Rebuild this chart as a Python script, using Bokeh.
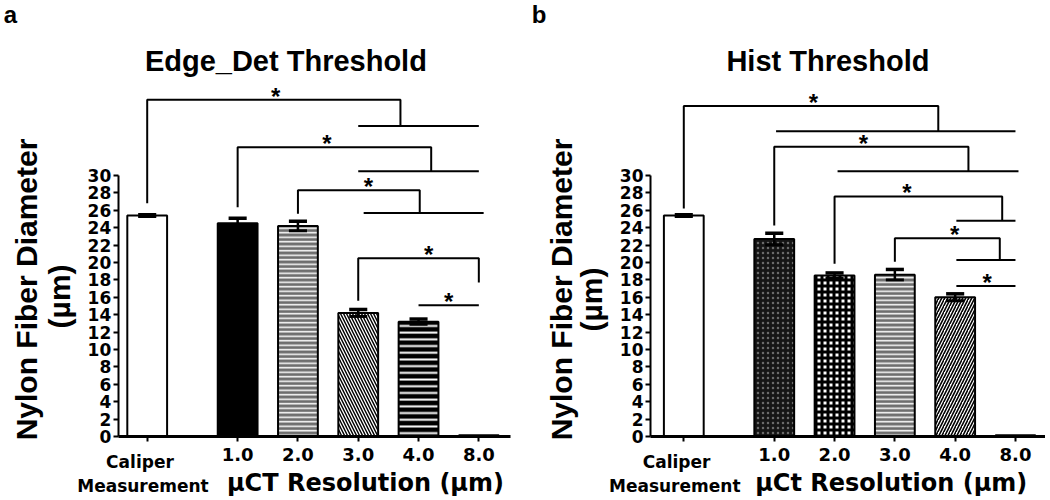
import math
from bokeh.plotting import figure
from bokeh.models import Range1d, FixedTicker, Label, ColumnDataSource, AllLabels
from bokeh.core.properties import field
from bokeh.layouts import row
from bokeh.embed import file_html
from bokeh.resources import INLINE

# ---------------- data ----------------
groups = ["Caliper Measurement", "1.0", "2.0", "3.0", "4.0", "8.0"]
tick_labels = ["", "1.0", "2.0", "3.0", "4.0", "8.0"]
x_pos = [0, 1.5, 2.5, 3.5, 4.5, 5.5]          # category slots (gap after caliper)
y_ticks = list(range(0, 31, 2))

# panel a: Edge_Det Threshold (mean, SEM in um)
ed_mean = [25.4, 24.5, 24.2, 14.2, 13.2, 0.15]
ed_sem = [0.1, 0.6, 0.55, 0.4, 0.3, 0.0]

# panel b: Hist Threshold
hist_mean = [25.4, 22.7, 18.5, 18.6, 16.0, 0.15]
hist_sem = [0.1, 0.65, 0.3, 0.6, 0.4, 0.0]

# significance brackets (data units): left leg x, right leg x, top y, left end y, right end y
ed_br_xl = [0, 1.5, 2.5, 3.5]
ed_br_xr = [4.2, 4.71, 4.52, 5.5]
ed_br_top = [38.7, 33.25, 28.3, 20.5]
ed_br_yl = [26.8, 26.36, 25.6, 15.6]
ed_br_yr = [35.7, 30.5, 25.7, 17.7]
ed_br_sub = [(3.5, 5.5), (3.5, 5.5), (3.59, 5.58), None]
ed_single = (4.5, 5.5, 15.1)
ed_star_x = [2.13, 2.98, 3.67, 4.67, 5.0]

hist_br_xl = [0, 1.5, 2.5, 3.5]
hist_br_xr = [4.22, 4.72, 5.28, 5.24]
hist_br_top = [38.0, 33.3, 27.6, 22.8]
hist_br_yl = [26.2, 24.25, 19.85, 20.1]
hist_br_yr = [35.1, 30.5, 24.8, 20.3]
hist_br_sub = [(1.53, 5.5), (2.55, 5.55), (4.52, 5.5), (4.52, 5.5)]
hist_single = (4.52, 5.5, 17.3)
hist_star_x = [2.15, 2.98, 3.7, 4.49, 5.03]

# ---------------- styles ----------------
ed_style = dict(
    fill=["white", "black", "#6e6e6e", "black", "black", "black"],
    hatch=["blank", "blank", "horizontal_line", "left_diagonal_line", "horizontal_line", "blank"],
    hcol=["white", "white", "white", "white", "white", "white"],
    hscale=[6, 6, 4.5, 6, 6.7, 6],
    hweight=[1, 1, 1.5, 1.3, 2, 1],
)
hist_style = dict(
    fill=["white", "#151515", "white", "#6e6e6e", "white", "black"],
    hatch=["blank", "dot", "cross", "horizontal_line", "right_diagonal_line", "blank"],
    hcol=["white", "#6a6a6a", "black", "white", "black", "white"],
    hscale=[6, 5, 6, 4.5, 6, 6],
    hweight=[1, 0.8, 3, 1.5, 1.6, 1],
)

BOLD_SANS = "Liberation Sans"
WIDE = "DejaVu Sans"
H = 496


def lab(p, x, y, text, font, size, align="center", angle=0.0):
    p.add_layout(Label(x=x, y=y, text=text, text_align=align, text_baseline="alphabetic",
                       angle=angle, text_font=font, text_font_size=size,
                       text_font_style="bold", text_color="black"))


def make_panel(width, x0, x1, axis_x, x_end, means, sems, style, br_xl, br_xr, br_top, br_yl, br_yr,
               br_sub, single, star_x, title, title_x, letter, letter_x, xlabel, xlabel_x,
               ylab_x, ylab2_x, ylab_y, ylab2_y, cal_x, meas_x):
    p = figure(width=width, height=H, x_range=Range1d(x0, x1), y_range=Range1d(-6.897, 50.115),
               output_backend="svg", toolbar_location=None,
               min_border_left=0, min_border_right=0, min_border_top=0, min_border_bottom=0)
    p.xgrid.visible = False
    p.ygrid.visible = False
    p.outline_line_color = None
    p.background_fill_color = "white"
    p.border_fill_color = "white"

    src = ColumnDataSource(dict(x=x_pos, top=means, fill=style["fill"], hatch=style["hatch"],
                                hcol=style["hcol"], hscale=style["hscale"], hweight=style["hweight"]))
    p.vbar(x="x", top="top", bottom=0, width=0.66, source=src, fill_color="fill",
           line_color="black", line_width=2, hatch_pattern=field("hatch"), hatch_color="hcol",
           hatch_scale="hscale", hatch_weight="hweight")

    ex = [x for x, s in zip(x_pos, sems) if s > 0]
    lo = [m - s for m, s in zip(means, sems) if s > 0]
    hi = [m + s for m, s in zip(means, sems) if s > 0]
    cap = 0.15
    p.segment(x0=ex, y0=lo, x1=ex, y1=hi, line_color="black", line_width=2.5)
    p.segment(x0=[x - cap for x in ex], y0=hi, x1=[x + cap for x in ex], y1=hi,
              line_color="black", line_width=3.5)
    p.segment(x0=[x - cap for x in ex], y0=lo, x1=[x + cap for x in ex], y1=lo,
              line_color="black", line_width=3)

    xs, ys = [], []
    for xl, xr, top, yl, yr in zip(br_xl, br_xr, br_top, br_yl, br_yr):
        xs.append([xl, xl, xr, xr])
        ys.append([yl, top, top, yr])
    for sub, yr in zip(br_sub, br_yr):
        if sub is not None:
            xs.append([sub[0], sub[1]])
            ys.append([yr, yr])
    xs.append([single[0], single[1]])
    ys.append([single[2], single[2]])
    p.multi_line(xs, ys, line_color="black", line_width=2)

    star_y = list(br_top) + [single[2]]
    for sx, sy in zip(star_x, star_y):
        lab(p, sx, sy + 0.4, "*", BOLD_SANS, "24px")

    # axes drawn at fixed data locations inside the frame
    p.yaxis.fixed_location = axis_x
    p.yaxis.ticker = FixedTicker(ticks=y_ticks)
    p.yaxis.bounds = (0, 30)
    p.yaxis.axis_line_width = 2
    p.yaxis.major_tick_line_width = 2
    p.yaxis.major_tick_out = 5
    p.yaxis.major_tick_in = 0
    p.yaxis.minor_tick_line_color = None
    p.yaxis.major_label_policy = AllLabels()
    p.yaxis.major_label_text_font = WIDE
    p.yaxis.major_label_text_font_style = "bold"
    p.yaxis.major_label_text_font_size = "17px"
    p.yaxis.major_label_text_color = "black"
    p.yaxis.major_label_standoff = 2

    p.xaxis.fixed_location = 0
    p.xaxis.ticker = FixedTicker(ticks=x_pos)
    p.xaxis.bounds = (axis_x, x_end)
    p.xaxis.major_label_overrides = {x: t for x, t in zip(x_pos, tick_labels)}
    p.xaxis.axis_line_width = 3
    p.xaxis.major_tick_line_width = 2
    p.xaxis.major_tick_out = 5
    p.xaxis.major_tick_in = 0
    p.xaxis.minor_tick_line_color = None
    p.xaxis.major_label_text_font = WIDE
    p.xaxis.major_label_text_font_style = "bold"
    p.xaxis.major_label_text_font_size = "18px"
    p.xaxis.major_label_text_color = "black"
    p.xaxis.major_label_standoff = 7

    # texts
    lab(p, letter_x, 48.5, letter, BOLD_SANS, "24px", align="left")
    lab(p, title_x, 43.2, title, BOLD_SANS, "29px")
    lab(p, ylab_x, ylab_y, "Nylon Fiber Diameter", BOLD_SANS, "30px", angle=math.pi / 2)
    lab(p, ylab2_x, ylab2_y, "(\u00b5m)", BOLD_SANS, "30px", angle=math.pi / 2)
    lab(p, cal_x, -2.91, "Caliper", WIDE, "17px")
    lab(p, meas_x, -5.7, "Measurement", WIDE, "17px")
    lab(p, xlabel_x, -5.38, xlabel, WIDE, "24px")
    return p


p1 = make_panel(530, -2.433, 6.357, -0.48, 6.02, ed_mean, ed_sem, ed_style,
                ed_br_xl, ed_br_xr, ed_br_top, ed_br_yl, ed_br_yr, ed_br_sub, ed_single, ed_star_x,
                "Edge_Det Threshold", 2.30, "a", -2.38, "\u03bcCT Resolution (\u00b5m)", 3.62,
                -2.0, -1.45, 16.9, 16.1, -0.12, -0.07)
p2 = make_panel(515, -2.542, 5.998, -0.552, 5.99, hist_mean, hist_sem, hist_style,
                hist_br_xl, hist_br_xr, hist_br_top, hist_br_yl, hist_br_yr, hist_br_sub, hist_single,
                hist_star_x, "Hist Threshold", 2.39, "b", -2.52, "\u03bcCt Resolution (\u00b5m)", 3.44,
                -2.03, -1.53, 16.9, 15.75, -0.12, -0.15)

layout = row(p1, p2)
open("out.html", "w").write(file_html(layout, INLINE))
